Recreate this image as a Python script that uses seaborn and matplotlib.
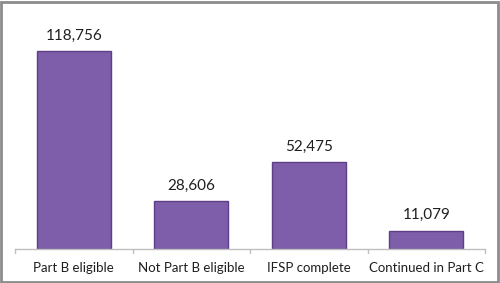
import matplotlib
matplotlib.use("Agg")
import matplotlib.pyplot as plt
import seaborn as sns
import pandas as pd
from matplotlib.patches import Rectangle

categories = ["Part B eligible", "Not Part B eligible", "IFSP complete", "Continued in Part C"]
values = [118756, 28606, 52475, 11079]
value_labels = ["118,756", "28,606", "52,475", "11,079"]

sns.set_theme(style="white")
plt.rcParams['font.family'] = ['Lato', 'DejaVu Sans']

df = pd.DataFrame({"category": categories, "value": values})

fig = plt.figure(figsize=(5.0, 2.83), dpi=100)
ax = fig.add_axes([0.03, 0.12, 0.94, 0.823])

sns.barplot(data=df, x="category", y="value", color="#7E5DAA", width=0.63,
            edgecolor="#5E3F86", linewidth=1.0, saturation=1, ax=ax)

ax.set_ylim(0, 140000)
ax.set_xlim(-0.5, len(categories) - 0.5)
for s in ["top", "right", "left"]:
    ax.spines[s].set_visible(False)
ax.spines["bottom"].set_color("#BFBFBF")
ax.spines["bottom"].set_linewidth(1)
ax.set_yticks([])
ax.set_xlabel("")
ax.set_ylabel("")
ax.tick_params(axis="x", length=0, labelsize=9.5, labelcolor="#1F1F1F", pad=9)

# boundary tick marks
for b in [-0.5 + i for i in range(len(categories) + 1)]:
    ax.plot([b, b], [0, -0.018], transform=ax.get_xaxis_transform(),
            color="#BFBFBF", lw=1, clip_on=False)

for i, (v, lab) in enumerate(zip(values, value_labels)):
    ax.annotate(lab, (i, v), xytext=(0, 6), textcoords="offset points",
                ha="center", va="bottom", fontsize=11, color="#1F1F1F")

fig.patches.append(Rectangle((0.002, 0.004), 0.994, 0.99, transform=fig.transFigure,
                             fill=False, edgecolor="#8C8C8C", linewidth=2))

fig.savefig("out.png", dpi=100)
